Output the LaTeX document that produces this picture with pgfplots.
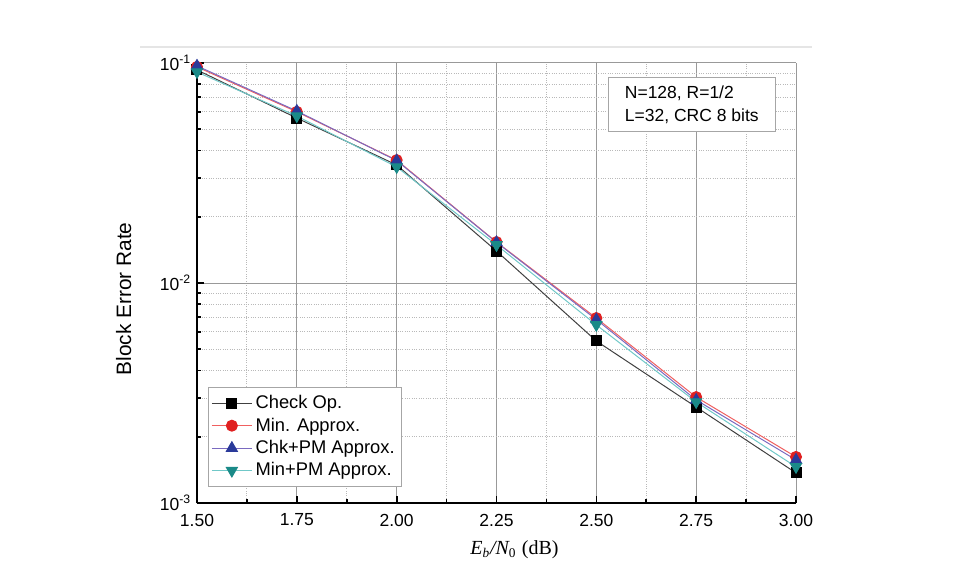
\documentclass[border=0pt]{standalone}
\usepackage{fontspec}
\setmainfont{Liberation Sans}
\newfontfamily\seriffont{Liberation Serif}
\usepackage{pgfplots}
\pgfplotsset{compat=1.18}
\definecolor{cred}{HTML}{E02020}
\definecolor{credl}{HTML}{F06060}
\definecolor{cblue}{HTML}{2A3A9A}
\definecolor{cbluel}{HTML}{7A6AC0}
\definecolor{cteal}{HTML}{1A8A88}
\definecolor{ctealL}{HTML}{70C8C8}
\begin{document}
\begin{tikzpicture}
\path[use as bounding box] (-118.2pt,-48pt) rectangle (460.2pt,301.8pt);
\draw[gray!20, line width=1pt] (-34.2pt,273.6pt) -- (369pt,273.6pt);
\begin{axis}[
  at={(0,0)}, anchor=south west, scale only axis,
  width=359.4pt, height=264pt,
  xmin=1.5, xmax=3.0, ymode=log, ymin=1e-3, ymax=1e-1,
  axis x line*=bottom, axis y line*=left,
  axis line style={line width=1.2pt, -},
  xtick={1.5,1.75,2,2.25,2.5,2.75,3},
  xticklabels={1.50,1.75,2.00,2.25,2.50,2.75,3.00},
  minor xtick={1.625,1.875,2.125,2.375,2.625,2.875},
  ytick={1e-3,1e-2,1e-1},
  yticklabels={10\textsuperscript{-3},10\textsuperscript{-2},10\textsuperscript{-1}},
  minor ytick={2e-3,3e-3,4e-3,5e-3,6e-3,7e-3,8e-3,9e-3,2e-2,3e-2,4e-2,5e-2,6e-2,7e-2,8e-2,9e-2},
  grid=both,
  major grid style={gray!80, line width=0.6pt, solid},
  minor grid style={gray!55, densely dotted, line width=0.5pt},
  tick align=inside,
  major tick length=4pt, minor tick length=2.5pt,
  every tick/.style={black, line width=1pt},
  tick label style={font=\fontsize{10.5}{12}\selectfont},
  xticklabel style={yshift=-3pt},
  ylabel={Block Error Rate},
  ylabel style={font=\fontsize{12.5}{14}\selectfont, at={(axis description cs:-0.1,0.464)}},
  xlabel={{\seriffont\itshape E\textsubscript{b}/N\textsubscript{\upshape 0}} {\seriffont(dB)}},
  xlabel style={font=\fontsize{12}{14}\selectfont, at={(axis description cs:0.53,-0.107)}, anchor=center},
  legend cell align=left,
  legend style={at={(axis description cs:0.018,0.036)}, anchor=south west,
    draw=gray!70, font=\fontsize{11}{13}\selectfont, row sep=0pt,
    inner xsep=2pt, inner ysep=3pt},
  legend image code/.code={\draw[mark repeat=2,mark phase=2,#1] plot coordinates {(0cm,0cm) (0.42cm,0cm) (0.84cm,0cm)};},
]
\addplot[color=black!75, line width=0.6pt, mark=square*, mark size=3pt, mark options={solid, fill=black, draw=black}]
  coordinates {(1.5,0.093) (1.75,0.0562) (2.0,0.0344) (2.25,0.01397) (2.5,0.00545) (2.75,0.00273) (3.0,0.00137)};
\addlegendentry{Check Op.}
\addplot[color=credl, line width=0.6pt, mark=*, mark size=3.3pt, mark options={solid, fill=cred, draw=cred}]
  coordinates {(1.5,0.096) (1.75,0.0600) (2.0,0.0362) (2.25,0.01535) (2.5,0.00693) (2.75,0.00303) (3.0,0.00162)};
\addlegendentry{Min. Approx.}
\addplot[color=cbluel, line width=0.6pt, mark=triangle*, mark size=3.8pt, mark options={solid, fill=cblue, draw=cblue}]
  coordinates {(1.5,0.097) (1.75,0.0605) (2.0,0.0360) (2.25,0.01530) (2.5,0.00682) (2.75,0.00294) (3.0,0.00157)};
\addlegendentry{Chk+PM Approx.}
\addplot[color=ctealL, line width=0.6pt, mark=triangle*, mark size=3.8pt, mark options={solid, fill=cteal, draw=cteal, rotate=180}]
  coordinates {(1.5,0.091) (1.75,0.0574) (2.0,0.0337) (2.25,0.0149) (2.5,0.00645) (2.75,0.00288) (3.0,0.00146)};
\addlegendentry{Min+PM Approx.}
\node[draw=gray!70, fill=white, align=left, font=\fontsize{10.5}{13.4}\selectfont, inner xsep=10pt, inner ysep=5pt, line width=0.6pt]
  at (axis description cs:0.826,0.905) {N=128, R=1/2\\L=32, CRC 8 bits};
\end{axis}
\end{tikzpicture}
\end{document}
